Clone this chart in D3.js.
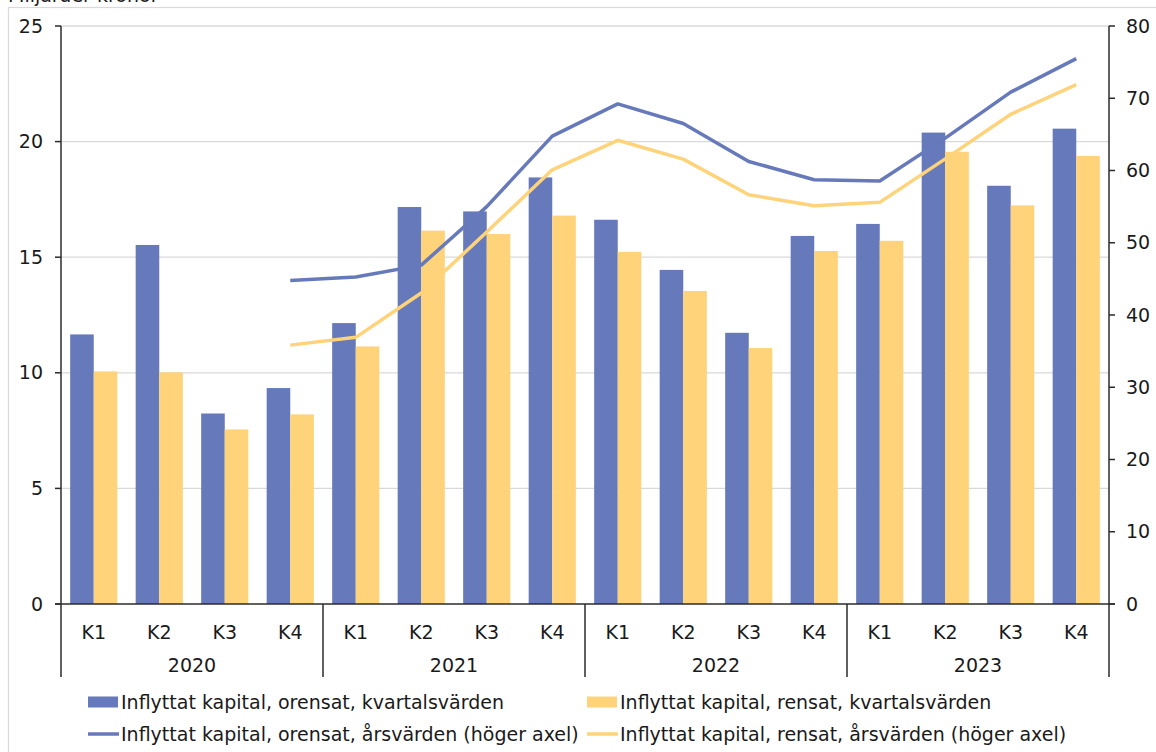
<!DOCTYPE html>
<html>
<head>
<meta charset="utf-8">
<script src="https://cdn.jsdelivr.net/npm/d3@7"></script>
<style>
  body { margin: 0; background: #fff; }
  text { font-family: "DejaVu Sans", Verdana, sans-serif; fill: #1a1a1a; font-size: 19px; }
</style>
</head>
<body>
<div id="chart"></div>
<script>
var years = ["2020", "2021", "2022", "2023"];
var quarters = ["K1", "K2", "K3", "K4"];

// kvartalsvärden, miljarder kronor (vänster axel)
var orensatKvartal = [11.66, 15.53, 8.24, 9.34, 12.15, 17.17, 16.98, 18.45,
                      16.62, 14.45, 11.73, 15.92, 16.44, 20.39, 18.09, 20.56];
var rensatKvartal = [10.06, 10.02, 7.55, 8.20, 11.14, 16.15, 16.00, 16.80,
                     15.23, 13.54, 11.07, 15.27, 15.71, 19.56, 17.24, 19.38];

// årsvärden (höger axel)
var orensatAr = [null, null, null, 44.77, 45.26, 46.9, 55.0, 64.75,
                 69.22, 66.5, 61.25, 58.72, 58.54, 64.48, 70.84, 75.48];
var rensatAr = [null, null, null, 35.83, 36.91, 43.04, 51.49, 60.09,
                64.18, 61.57, 56.64, 55.11, 55.59, 61.61, 67.78, 71.89];

var leftTicks = [0, 5, 10, 15, 20, 25];
var rightTicks = [0, 10, 20, 30, 40, 50, 60, 70, 80];

var seriesNames = ["Inflyttat kapital, orensat, kvartalsvärden",
                   "Inflyttat kapital, rensat, kvartalsvärden",
                   "Inflyttat kapital, orensat, årsvärden (höger axel)",
                   "Inflyttat kapital, rensat, årsvärden (höger axel)"];

var blue = "#6679bb",
    yellow = "#fed37a",
    axisColor = "#2b2b2b",
    gridColor = "#d9d9d9";

var width = 1156,
    height = 752,
    plotLeft = 61,
    plotRight = 1109,
    plotTop = 26,
    plotBottom = 604;

// one entry per quarter
var cats = [];
years.forEach(function (y) {
    quarters.forEach(function (q) { cats.push(y + " " + q); });
});

var svg = d3.select("#chart").append("svg")
    .attr("width", width)
    .attr("height", height);

// outer frame
svg.append("rect")
    .attr("x", 8.5).attr("y", 7.5)
    .attr("width", width + 10).attr("height", height + 10)
    .attr("fill", "none")
    .attr("stroke", gridColor)
    .attr("stroke-width", 1.2);

svg.append("text")
    .attr("x", 8).attr("y", 2)
    .text("Miljarder kronor");

var x = d3.scaleBand()
    .domain(cats)
    .range([plotLeft, plotRight])
    .paddingInner(0.28)
    .paddingOuter(0.14);

var x1 = d3.scaleBand()
    .domain([0, 1])
    .range([0, x.bandwidth()]);

var yL = d3.scaleLinear().domain([0, 25]).range([plotBottom, plotTop]);
var yR = d3.scaleLinear().domain([0, 80]).range([plotBottom, plotTop]);

// gridlines
svg.append("g")
    .selectAll("line")
    .data(leftTicks.filter(function (d) { return d > 0; }))
    .enter().append("line")
    .attr("x1", plotLeft).attr("x2", plotRight)
    .attr("y1", function (d) { return yL(d); })
    .attr("y2", function (d) { return yL(d); })
    .attr("stroke", gridColor)
    .attr("stroke-width", 1.3);

// bars
var barData = cats.map(function (c, i) {
    return { cat: c, vals: [orensatKvartal[i], rensatKvartal[i]] };
});
var colors = [blue, yellow];

var groups = svg.append("g").selectAll("g")
    .data(barData)
    .enter().append("g")
    .attr("transform", function (d) { return "translate(" + x(d.cat) + ",0)"; });

groups.selectAll("rect")
    .data(function (d) { return d.vals; })
    .enter().append("rect")
    .attr("x", function (d, i) { return x1(i); })
    .attr("y", function (d) { return yL(d); })
    .attr("width", x1.bandwidth())
    .attr("height", function (d) { return plotBottom - yL(d); })
    .attr("fill", function (d, i) { return colors[i]; });

// lines on right axis
var line = d3.line()
    .defined(function (d) { return d != null; })
    .x(function (d, i) { return x(cats[i]) + x.bandwidth() / 2; })
    .y(function (d) { return yR(d); });

[[orensatAr, blue], [rensatAr, yellow]].forEach(function (s) {
    svg.append("path")
        .datum(s[0])
        .attr("d", line)
        .attr("fill", "none")
        .attr("stroke", s[1])
        .attr("stroke-width", 3.5)
        .attr("stroke-linejoin", "round");
});

// left axis
var axL = svg.append("g");
axL.append("line")
    .attr("x1", plotLeft).attr("x2", plotLeft)
    .attr("y1", plotTop).attr("y2", 677)
    .attr("stroke", axisColor).attr("stroke-width", 1.5);
axL.selectAll(".tick")
    .data(leftTicks)
    .enter().append("line")
    .attr("x1", plotLeft - 6).attr("x2", plotLeft)
    .attr("y1", function (d) { return yL(d); })
    .attr("y2", function (d) { return yL(d); })
    .attr("stroke", axisColor).attr("stroke-width", 1.5);
axL.selectAll("text")
    .data(leftTicks)
    .enter().append("text")
    .attr("x", 43)
    .attr("y", function (d) { return yL(d); })
    .attr("dy", ".35em")
    .attr("text-anchor", "end")
    .text(function (d) { return d; });

// right axis
var axR = svg.append("g");
axR.append("line")
    .attr("x1", plotRight).attr("x2", plotRight)
    .attr("y1", plotTop).attr("y2", 677)
    .attr("stroke", axisColor).attr("stroke-width", 1.5);
axR.selectAll(".tick")
    .data(rightTicks)
    .enter().append("line")
    .attr("x1", plotRight).attr("x2", plotRight + 6)
    .attr("y1", function (d) { return yR(d); })
    .attr("y2", function (d) { return yR(d); })
    .attr("stroke", axisColor).attr("stroke-width", 1.5);
axR.selectAll("text")
    .data(rightTicks)
    .enter().append("text")
    .attr("x", 1126)
    .attr("y", function (d) { return yR(d); })
    .attr("dy", ".35em")
    .text(function (d) { return d; });

// zero line
svg.append("line")
    .attr("x1", plotLeft - 6).attr("x2", plotRight + 6)
    .attr("y1", plotBottom).attr("y2", plotBottom)
    .attr("stroke", axisColor).attr("stroke-width", 1.5);

// category axis: quarters and year separators
svg.append("g").selectAll("text")
    .data(cats)
    .enter().append("text")
    .attr("x", function (d) { return x(d) + x.bandwidth() / 2; })
    .attr("y", 639)
    .attr("text-anchor", "middle")
    .text(function (d) { return d.split(" ")[1]; });

var yearStart = function (y) { return x(y + " K1") - x.step() * x.paddingOuter(); };

svg.append("g").selectAll("line")
    .data(years.slice(1))
    .enter().append("line")
    .attr("x1", yearStart).attr("x2", yearStart)
    .attr("y1", plotBottom).attr("y2", 677)
    .attr("stroke", axisColor).attr("stroke-width", 1.5);

svg.append("g").selectAll("text")
    .data(years)
    .enter().append("text")
    .attr("x", function (d) { return yearStart(d) + x.step() * 2; })
    .attr("y", 672)
    .attr("text-anchor", "middle")
    .text(function (d) { return d; });

// legend
var legendPos = [[88, 702], [587, 702], [88, 734], [587, 734]];
var legend = svg.append("g").selectAll("g")
    .data(seriesNames)
    .enter().append("g")
    .attr("transform", function (d, i) {
        return "translate(" + legendPos[i][0] + "," + legendPos[i][1] + ")";
    });

legend.each(function (d, i) {
    var g = d3.select(this);
    var c = i % 2 === 0 ? blue : yellow;
    if (i < 2) {
        g.append("rect")
            .attr("x", 0).attr("y", -5.5)
            .attr("width", 30).attr("height", 11)
            .attr("fill", c);
    } else {
        g.append("line")
            .attr("x1", 0).attr("x2", 31)
            .attr("y1", 0).attr("y2", 0)
            .attr("stroke", c).attr("stroke-width", 3.5);
    }
    g.append("text")
        .attr("x", 33)
        .attr("dy", ".35em")
        .text(d);
});
</script>
</body>
</html>
